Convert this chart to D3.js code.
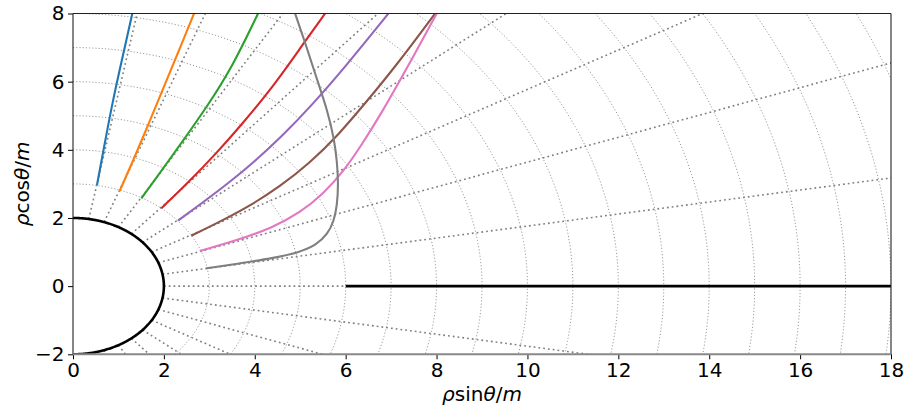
<!DOCTYPE html>
<html><head><meta charset="utf-8">
<script src="https://cdn.jsdelivr.net/npm/d3@7"></script>
<style>body{margin:0;background:#fff}svg{display:block}text{font-family:"DejaVu Sans",sans-serif}</style>
</head><body>
<svg id="c" width="909" height="419"></svg>
<script>
// ---- data ----
const xTicks = [0, 2, 4, 6, 8, 10, 12, 14, 16, 18];
const yTicks = [-2, 0, 2, 4, 6, 8];
const gridRadii = [3,4,5,6,7,8,9,10,11,12,13,14,15,16,17,18,19,20,21];
const gridAnglesDeg = [10,20,30,40,50,60,70,80,90,100,110,120,130,140,150,160,170];
const horizonRadius = 2;
const diskStart = 6, diskEnd = 18;
const seriesColors = ["#1f77b4","#ff7f0e","#2ca02c","#d62728","#9467bd","#8c564b","#e377c2","#7f7f7f"];
const curveBlue   = [[0.528,2.967],[0.528,2.967],[0.70,4.2],[0.87,5.4],[1.07,6.6],[1.305,8.0],[1.305,8.0]];
const curveOrange = [[1.027,2.792],[1.027,2.792],[1.36,3.80],[1.66,4.75],[1.96,5.72],[2.28,6.75],[2.663,8.0],[2.663,8.0]];
const curveGreen  = [[1.504,2.577],[1.504,2.577],[1.98,3.45],[2.44,4.30],[2.95,5.27],[3.50,6.42],[4.072,8.0],[4.072,8.0]];
const curveRed    = [[1.944,2.284],[1.944,2.284],[2.55,3.06],[3.155,3.898],[3.70,4.72],[4.40,5.85],[5.02,7.02],[5.547,8.0],[5.547,8.0]];
const curvePurple = [[2.311,1.92],[2.311,1.92],[2.85,2.45],[3.40,3.00],[4.00,3.66],[4.60,4.40],[5.25,5.30],[6.00,6.45],[6.94,8.0],[6.94,8.0]];
const curveBrown  = [[2.604,1.48],[2.604,1.48],[3.25,1.90],[3.90,2.36],[4.55,2.92],[5.20,3.60],[5.85,4.45],[6.45,5.40],[7.10,6.45],[7.968,8.0],[7.968,8.0]];
const curvePink   = [[2.789,1.031],[2.789,1.031],[3.60,1.34],[4.40,1.72],[5.00,2.16],[5.50,2.70],[5.95,3.36],[6.35,4.14],[6.80,5.10],[7.35,6.40],[8.005,8.0],[8.005,8.0]];
const curveGray   = [[2.935,0.523],[2.935,0.523],[3.676,0.669],[4.40,0.82],[4.95,0.98],[5.35,1.20],[5.60,1.52],[5.74,1.90],[5.81,2.35],[5.84,3.0],[5.81,3.65],[5.75,4.30],[5.60,5.15],[5.36,6.10],[5.12,7.10],[4.887,8.0],[4.887,8.0]];
const curves = [curveBlue,curveOrange,curveGreen,curveRed,curvePurple,curveBrown,curvePink,curveGray];

// ---- layout ----
const svg = d3.select("#c");
const L = 73, R = 891, T = 13.5, B = 354.3;
const x = d3.scaleLinear().domain([0,18]).range([L,R]);
const y = d3.scaleLinear().domain([-2,8]).range([B,T]);
const line = d3.line().x(d=>x(d[0])).y(d=>y(d[1]));

svg.append("defs").append("clipPath").attr("id","clip")
  .append("rect").attr("x",L).attr("y",T).attr("width",R-L).attr("height",B-T);
const g = svg.append("g").attr("clip-path","url(#clip)");

const deg = d3.range(0,180.5,0.5);
function arc(r){ return deg.map(a=>[r*Math.sin(a*Math.PI/180), r*Math.cos(a*Math.PI/180)]); }

// circles of constant r
g.selectAll("path.circ").data(gridRadii).join("path").attr("class","circ")
  .attr("d", r=>line(arc(r))).attr("fill","none")
  .attr("stroke","#9a9a9a").attr("stroke-width",1).attr("stroke-dasharray","1.2,2");

// radial lines of constant theta
g.selectAll("path.rad").data(gridAnglesDeg).join("path").attr("class","rad")
  .attr("d", a=>{const t=a*Math.PI/180; return line([[horizonRadius*Math.sin(t),horizonRadius*Math.cos(t)],[30*Math.sin(t),30*Math.cos(t)]]);})
  .attr("fill","none").attr("stroke","#808080").attr("stroke-width",1.6).attr("stroke-dasharray","1.8,3");

// coloured curves
const smooth = d3.line().x(d=>x(d[0])).y(d=>y(d[1])).curve(d3.curveBasis);
g.selectAll("path.cv").data(curves).join("path").attr("class","cv")
  .attr("d", d=>smooth(d)).attr("fill","none")
  .attr("stroke",(d,i)=>seriesColors[i]).attr("stroke-width",2.1);

// horizon and disk
g.append("path").attr("d", line(arc(horizonRadius))).attr("fill","none").attr("stroke","#000").attr("stroke-width",2.6);
g.append("path").attr("d", line([[diskStart,0],[diskEnd,0]])).attr("fill","none").attr("stroke","#000").attr("stroke-width",2.6);

// axes
const fmt = d3.format("d");
const ax = svg.append("g").attr("transform",`translate(0,${B})`)
  .call(d3.axisBottom(x).tickValues(xTicks).tickFormat(fmt).tickSize(5).tickPadding(3.5));
const ay = svg.append("g").attr("transform",`translate(${L},0)`)
  .call(d3.axisLeft(y).tickValues(yTicks).tickFormat(fmt).tickSize(5).tickPadding(3.5));
[ax,ay].forEach(a=>{
  a.selectAll("text").attr("font-size",20).attr("fill","#000").attr("font-family","DejaVu Sans");
  a.selectAll("line").attr("stroke","#000").attr("stroke-width",1);
  a.select(".domain").remove();
});
// spines
svg.append("line").attr("x1",L).attr("x2",R).attr("y1",T).attr("y2",T).attr("stroke","#222").attr("stroke-width",1.1);
svg.append("line").attr("x1",R).attr("x2",R).attr("y1",T).attr("y2",B).attr("stroke","#222").attr("stroke-width",1.1);
svg.append("line").attr("x1",L).attr("x2",L).attr("y1",T).attr("y2",B).attr("stroke","#222").attr("stroke-width",1.1);
svg.append("line").attr("x1",L).attr("x2",R).attr("y1",B).attr("y2",B).attr("stroke","#888").attr("stroke-width",2);

// axis labels
function label(t, parts){
  parts.forEach(p=>t.append("tspan").text(p[0]).attr("font-style",p[1]?"italic":"normal"));
}
const xl = svg.append("text").attr("x",(L+R)/2).attr("y",401).attr("text-anchor","middle").attr("font-size",20);
label(xl, [["ρ",1],["sin",0],["θ",1],["/",0],["m",1]]);
const yl = svg.append("text").attr("transform",`translate(28.5,${(T+B)/2}) rotate(-90)`).attr("text-anchor","middle").attr("font-size",20);
label(yl, [["ρ",1],["cos",0],["θ",1],["/",0],["m",1]]);
</script>
</body></html>
